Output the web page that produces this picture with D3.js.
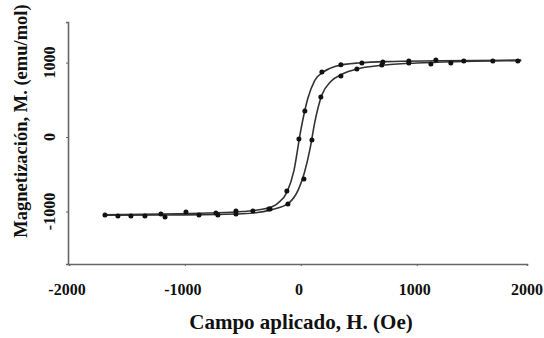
<!DOCTYPE html>
<html>
<head>
<meta charset="utf-8">
<script src="https://cdn.jsdelivr.net/npm/d3@7"></script>
<style>
  body { margin: 0; background: #fff; }
  text { font-family: "Liberation Serif", "Times New Roman", serif; font-weight: bold; fill: #111; }
</style>
</head>
<body>
<div id="chart"></div>
<script>
// measured points, field H (Oe) and magnetization M (emu/mol)
const upperH = [1871, 1655, 1405, 1164, 931, 707, 526, 345, 181, 34, -17, -121, -267, -414, -560, -733, -991, -1207, -1690];
const upperM = [1020, 1020, 1020, 1034, 1020, 1007, 993, 970, 872, 349, -27, -725, -966, -993, -993, -1020, -1007, -1034, -1047];
const lowerH = [-1578, -1466, -1345, -1172, -879, -716, -560, -276, -112, 26, 95, 172, 345, 483, 698, 931, 1121, 1293];
const lowerM = [-1060, -1060, -1060, -1074, -1047, -1047, -1034, -966, -899, -564, -40, 537, 819, 913, 966, 993, 980, 993];

// smooth curves drawn through the loop
const upperFitH = [-1700, -1200, -800, -500, -300, -200, -120, -60, 0, 60, 120, 200, 300, 500, 800, 1200, 1900];
const upperFitM = [-1045, -1035, -1020, -1000, -960, -890, -740, -450, 100, 520, 760, 880, 950, 995, 1015, 1025, 1030];
const lowerFitH = [-1700, -1000, -500, -250, -100, -20, 30, 80, 120, 180, 260, 350, 500, 700, 1000, 1400, 1900];
const lowerFitM = [-1050, -1045, -1030, -975, -880, -700, -480, -150, 200, 560, 750, 840, 920, 965, 995, 1015, 1030];

const xTicks = [-2000, -1000, 0, 1000, 2000];
const yTicks = [-1000, 0, 1000];

const width = 544, height = 338;
const svg = d3.select("#chart").append("svg")
    .attr("width", width)
    .attr("height", height);

const x = d3.scaleLinear().domain([-2000, 1950]).range([69, 527]);
const y = d3.scaleLinear().domain([-1705, 1545]).range([264, 22]);

// axes (only left and bottom lines)
svg.append("g")
    .attr("transform", `translate(0,${y(-1705)})`)
    .call(d3.axisBottom(x).tickValues(xTicks.slice(0, 4)).tickSize(2).tickFormat(""));
svg.append("g")
    .attr("transform", `translate(${x(-2000) - 1},0)`)
    .call(d3.axisLeft(y).tickValues(yTicks).tickSize(2).tickFormat(""));
svg.selectAll(".domain").attr("stroke", "#666").attr("stroke-width", 1.6);
svg.selectAll(".tick line").attr("stroke", "#666");

// tick labels
svg.append("g").selectAll("text")
    .data(xTicks)
    .enter().append("text")
    .attr("x", d => Math.min(x(d) - 2, 527))
    .attr("y", 295)
    .attr("text-anchor", "middle")
    .style("font-size", "16px")
    .text(d => d);

svg.append("g").selectAll("text")
    .data(yTicks)
    .enter().append("text")
    .attr("transform", d => `translate(55,${y(d)}) rotate(-90)`)
    .attr("text-anchor", "middle")
    .style("font-size", "16px")
    .text(d => d);

// axis titles
svg.append("text")
    .attr("x", 301)
    .attr("y", 329)
    .attr("text-anchor", "middle")
    .style("font-size", "21px")
    .text("Campo aplicado, H. (Oe)");

svg.append("text")
    .attr("transform", "translate(27,121) rotate(-90)")
    .attr("text-anchor", "middle")
    .style("font-size", "18.5px")
    .text("Magnetización, M. (emu/mol)");

// loop curves
const line = d3.line()
    .x(d => x(d[0]))
    .y(d => y(d[1]))
    .curve(d3.curveMonotoneX);

[[upperFitH, upperFitM], [lowerFitH, lowerFitM]].forEach(([hs, ms]) => {
    svg.append("path")
        .datum(hs.map((h, i) => [h, ms[i]]))
        .attr("fill", "none")
        .attr("stroke", "#333")
        .attr("stroke-width", 1.6)
        .attr("d", line);
});

// markers
const pts = upperH.map((h, i) => [h, upperM[i]])
    .concat(lowerH.map((h, i) => [h, lowerM[i]]));
svg.append("g").selectAll("circle")
    .data(pts)
    .enter().append("circle")
    .attr("cx", d => x(d[0]))
    .attr("cy", d => y(d[1]))
    .attr("r", 2.5)
    .attr("fill", "#111");
</script>
</body>
</html>
